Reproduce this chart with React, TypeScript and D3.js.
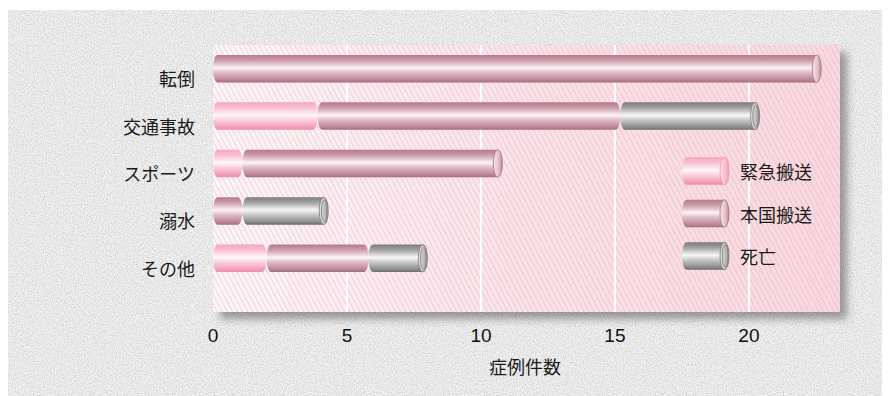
import React from "react";
import * as d3 from "d3";

// Case counts by cause, split by outcome
const categories = ["転倒", "交通事故", "スポーツ", "溺水", "その他"];
const seriesNames = ["緊急搬送", "本国搬送", "死亡"];
const emergency = [0, 3.9, 1.1, 0, 2.0];
const repatriation = [22.7, 11.3, 9.7, 1.1, 3.8];
const deaths = [0, 5.2, 0, 3.2, 2.2];
const xTicks = [0, 5, 10, 15, 20];
const axisTitle = "症例件数";

const W = 890;
const H = 396;
const plot = { left: 213, right: 840, top: 45, bottom: 312 };
const RX = 4.5;

const jpFont = "'Noto Sans CJK JP', 'Noto Sans', sans-serif";
const numFont = "'Liberation Sans', Arial, sans-serif";

const gradIds = ["gEmerg", "gRepat", "gDeath"];
const capIds = ["cEmerg", "cRepat", "cDeath"];

function segPath(x0: number, x1: number, y: number, h: number, rx: number) {
  const ry = h / 2;
  return (
    `M${x0 + rx},${y} L${x1 - rx},${y} ` +
    `A${rx},${ry} 0 0 1 ${x1 - rx},${y + h} ` +
    `L${x0 + rx},${y + h} ` +
    `A${rx},${ry} 0 0 1 ${x0 + rx},${y} Z`
  );
}

function Cap({ x1, y, h, idx }: { x1: number; y: number; h: number; idx: number }) {
  const cx = x1 - RX;
  const cy = y + h / 2;
  return (
    <g>
      <ellipse
        cx={cx}
        cy={cy}
        rx={RX}
        ry={h / 2}
        fill={`url(#${capIds[idx]})`}
        stroke={idx === 2 ? "#7a7a7a" : idx === 1 ? "#a8778a" : "#ee93ae"}
        strokeWidth={0.8}
      />
      {idx === 2 && (
        <ellipse cx={cx + 0.6} cy={cy} rx={RX - 1.6} ry={h / 2 - 3} fill="none" stroke="#8c8c8c" strokeWidth={1} />
      )}
    </g>
  );
}

export default function App() {
  const rows = categories.map((c, i) => ({
    cat: c,
    s0: emergency[i],
    s1: repatriation[i],
    s2: deaths[i],
  }));
  const stack = d3.stack<any>().keys(["s0", "s1", "s2"]);
  const layers = stack(rows);

  const x = d3.scaleLinear().domain([0, 23.4]).range([plot.left, plot.right]);
  const y = d3
    .scaleBand<string>()
    .domain(categories)
    .range([plot.top, 282])
    .paddingInner(0.42)
    .paddingOuter(0.21);
  const bh = y.bandwidth();

  const legendY = d3.scaleBand<string>().domain(seriesNames).range([142.3, 284.8]).padding(0.353);

  return (
    <svg width={W - 8} height={H - 8} style={{ display: "block" }} viewBox={`8 8 ${W - 8} ${H - 8}`}>
      <defs>
        <filter id="grain" x="0" y="0" width="100%" height="100%">
          <feTurbulence type="fractalNoise" baseFrequency="0.9" numOctaves="2" seed="4" result="n" />
          <feColorMatrix
            in="n"
            type="matrix"
            values="0 0 0 0 0  0 0 0 0 0  0 0 0 0 0  0.34 0 0 0 -0.13"
          />
        </filter>
        <filter id="shadow" x="-5%" y="-5%" width="115%" height="120%">
          <feDropShadow dx="7" dy="7" stdDeviation="4" floodColor="#000" floodOpacity="0.35" />
        </filter>
        <linearGradient id="plotBg" x1="0" y1="0" x2="1" y2="0">
          <stop offset="0" stopColor="#fdf5f7" />
          <stop offset="0.4" stopColor="#fbe6eb" />
          <stop offset="1" stopColor="#f9d8df" />
        </linearGradient>
        <pattern id="hatch" width="4.5" height="4.5" patternUnits="userSpaceOnUse" patternTransform="rotate(-28)">
          <line x1="0.5" y1="0" x2="0.5" y2="4.5" stroke="#d9a3b2" strokeOpacity="0.5" strokeWidth="0.8" />
        </pattern>
        <linearGradient id="gEmerg" x1="0" y1="0" x2="0" y2="1">
          <stop offset="0" stopColor="#f5a5bd" />
          <stop offset="0.2" stopColor="#f9c0d1" />
          <stop offset="0.47" stopColor="#fff8fa" />
          <stop offset="0.62" stopColor="#fbd5e0" />
          <stop offset="0.9" stopColor="#f39eb8" />
          <stop offset="1" stopColor="#ec8eaa" />
        </linearGradient>
        <linearGradient id="gRepat" x1="0" y1="0" x2="0" y2="1">
          <stop offset="0" stopColor="#b47b8d" />
          <stop offset="0.2" stopColor="#cd9cab" />
          <stop offset="0.47" stopColor="#fcf5f7" />
          <stop offset="0.62" stopColor="#e3c0ca" />
          <stop offset="0.9" stopColor="#bd8698" />
          <stop offset="1" stopColor="#a56b7d" />
        </linearGradient>
        <linearGradient id="gDeath" x1="0" y1="0" x2="0" y2="1">
          <stop offset="0" stopColor="#7b7b7b" />
          <stop offset="0.2" stopColor="#a3a3a3" />
          <stop offset="0.47" stopColor="#f7f7f7" />
          <stop offset="0.62" stopColor="#cdcdcd" />
          <stop offset="0.9" stopColor="#8c8c8c" />
          <stop offset="1" stopColor="#6c6c6c" />
        </linearGradient>
        <linearGradient id="cEmerg" x1="0" y1="0" x2="1" y2="0">
          <stop offset="0" stopColor="#fde6ee" />
          <stop offset="1" stopColor="#f59cb7" />
        </linearGradient>
        <linearGradient id="cRepat" x1="0" y1="0" x2="1" y2="0">
          <stop offset="0" stopColor="#f6e6eb" />
          <stop offset="0.6" stopColor="#e2c0ca" />
          <stop offset="1" stopColor="#b98193" />
        </linearGradient>
        <linearGradient id="cDeath" x1="0" y1="0" x2="1" y2="0">
          <stop offset="0" stopColor="#e8e8e8" />
          <stop offset="0.6" stopColor="#bdbdbd" />
          <stop offset="1" stopColor="#8a8a8a" />
        </linearGradient>
      </defs>

      {/* textured page panel */}
      <rect x={8} y={10} width={W - 8} height={H - 10} fill="#f2f2f2" />
      <rect x={8} y={10} width={W - 8} height={H - 10} filter="url(#grain)" />

      {/* plot area */}
      <rect
        x={plot.left}
        y={plot.top}
        width={plot.right - plot.left}
        height={plot.bottom - plot.top}
        fill="url(#plotBg)"
        filter="url(#shadow)"
      />
      <rect
        x={plot.left}
        y={plot.top}
        width={plot.right - plot.left}
        height={plot.bottom - plot.top}
        fill="url(#hatch)"
      />
      {xTicks
        .filter((t) => t > 0)
        .map((t) => (
          <line key={t} x1={x(t)} x2={x(t)} y1={plot.top} y2={plot.bottom} stroke="#ffffff" strokeWidth={2} />
        ))}

      {/* stacked cylinders */}
      {categories.map((c, ci) => {
        const yy = y(c) as number;
        const segs = layers
          .map((layer, li) => ({ li, d0: layer[ci][0], d1: layer[ci][1] }))
          .filter((s) => s.d1 - s.d0 > 0);
        const last = segs[segs.length - 1];
        return (
          <g key={c}>
            {segs.map((s) => (
              <path key={s.li} d={segPath(x(s.d0), x(s.d1), yy, bh, RX)} fill={`url(#${gradIds[s.li]})`} />
            ))}
            {last && <Cap x1={x(last.d1)} y={yy} h={bh} idx={last.li} />}
          </g>
        );
      })}

      {/* category labels */}
      {categories.map((c) => (
        <text
          key={c}
          x={195}
          y={(y(c) as number) + bh / 2 + 9.5}
          textAnchor="end"
          dominantBaseline="central"
          fontFamily={jpFont}
          fontSize={18}
          fill="#1a1a1a"
        >
          {c}
        </text>
      ))}

      {/* x tick labels */}
      {xTicks.map((t) => (
        <text
          key={t}
          x={x(t)}
          y={335}
          textAnchor="middle"
          dominantBaseline="central"
          fontFamily={numFont}
          fontSize={19}
          fill="#111"
        >
          {t}
        </text>
      ))}
      <text x={525} y={366} textAnchor="middle" dominantBaseline="central" fontFamily={jpFont} fontSize={18} fill="#1a1a1a">
        {axisTitle}
      </text>

      {/* legend */}
      {seriesNames.map((n, i) => {
        const ly = legendY(n) as number;
        const lh = legendY.bandwidth();
        return (
          <g key={n}>
            <path d={segPath(682, 729, ly, lh, RX)} fill={`url(#${gradIds[i]})`} />
            <Cap x1={729} y={ly} h={lh} idx={i} />
            <text x={740} y={ly + lh / 2} dominantBaseline="central" fontFamily={jpFont} fontSize={18} fill="#1a1a1a">
              {n}
            </text>
          </g>
        );
      })}
    </svg>
  );
}
